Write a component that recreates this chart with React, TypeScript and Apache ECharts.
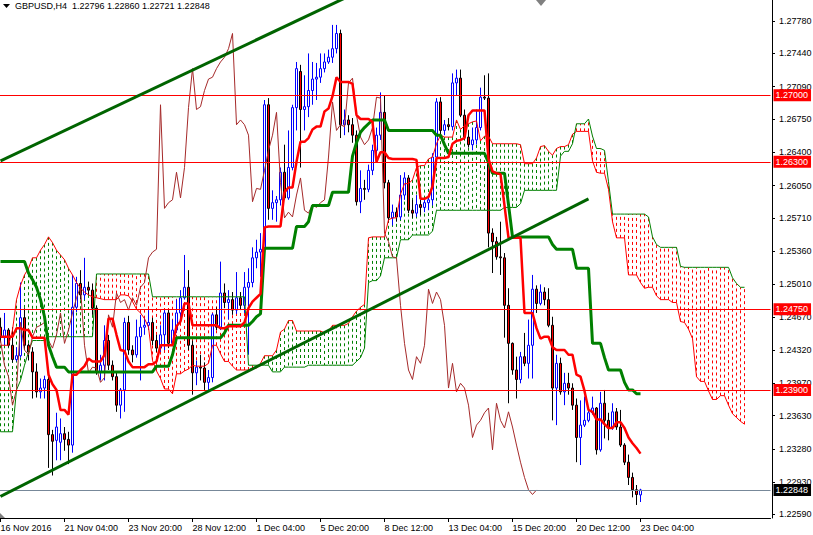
import React, { useEffect, useRef } from "react";
import * as echarts from "echarts";

// ---------- axis labels ----------
const xTickLabels = [
  "16 Nov 2016", "21 Nov 04:00", "23 Nov 20:00", "28 Nov 12:00", "1 Dec 04:00",
  "5 Dec 20:00", "8 Dec 12:00", "13 Dec 04:00", "15 Dec 20:00", "20 Dec 12:00", "23 Dec 04:00",
];
const xTickEvery = 16; // H4 bars between two time labels
const totalSlots = 193; // bars + chart shift space
const yTickValues = [
  1.2259, 1.2293, 1.2328, 1.2363, 1.2397, 1.2432, 1.2467, 1.2501,
  1.2536, 1.2571, 1.2605, 1.264, 1.2675, 1.2709, 1.2744, 1.2778,
];
const yMin = 1.22553;
const yMax = 1.28002;
const levelLines = [1.27, 1.263, 1.2475, 1.239];
const lastPrice = 1.22848;

// ---------- GBPUSD H4 candles ----------
const opens = [
  1.2456,1.2445,1.2453,1.2437,1.2422,1.2426,1.2466,1.2437,1.2430,1.2409,
  1.2388,1.2392,1.2401,1.2343,1.2337,1.2335,1.2344,1.2338,1.2332,1.2477,
  1.2502,1.2490,1.2498,1.2495,1.2476,1.2409,1.2416,1.2442,1.2416,1.2404,
  1.2374,1.2390,1.2461,1.2432,1.2427,1.2446,1.2456,1.2458,1.2461,1.2442,
  1.2434,1.2448,1.2471,1.2439,1.2453,1.2471,1.2487,1.2498,1.2437,1.2408,
  1.2414,1.2413,1.2398,1.2403,1.2469,1.2456,1.2492,1.2482,1.2485,1.2474,
  1.2487,1.2479,1.2498,1.2503,1.2529,1.2535,1.2538,1.2690,1.2581,1.2587,
  1.2590,1.2619,1.2592,1.2624,1.2687,1.2725,1.2685,1.2688,1.2705,1.2717,
  1.2719,1.2728,1.2735,1.2740,1.2749,1.2765,1.2669,1.2674,1.2669,1.2658,
  1.2588,1.2602,1.2601,1.2621,1.2642,1.2658,1.2682,1.2608,1.2571,1.2577,
  1.2572,1.2595,1.2613,1.2579,1.2576,1.2585,1.2582,1.2587,1.2590,1.2635,
  1.2693,1.2663,1.2669,1.2667,1.2713,1.2718,1.2679,1.2656,1.2648,1.2653,
  1.2666,1.2698,1.2697,1.2555,1.2546,1.2530,1.2529,1.2479,1.2439,1.2411,
  1.2401,1.2425,1.2418,1.2437,1.2496,1.2481,1.2493,1.2485,1.2458,1.2392,
  1.2418,1.2388,1.2397,1.2392,1.2374,1.2340,1.2353,1.2358,1.2366,1.2371,
  1.2327,1.2376,1.2358,1.2350,1.2367,1.2351,1.2332,1.2314,1.2298,1.2285,
  1.22796,
];
const highs = [
  1.2466,1.2471,1.2455,1.2456,1.2435,1.2503,1.2476,1.2439,1.2435,1.2418,
  1.2402,1.2405,1.2411,1.2348,1.2366,1.2360,1.2351,1.2346,1.2511,1.2509,
  1.2516,1.2529,1.2504,1.2502,1.2479,1.2427,1.2458,1.2448,1.2421,1.2408,
  1.2392,1.2466,1.2468,1.2437,1.2464,1.2469,1.2466,1.2474,1.2466,1.2448,
  1.2458,1.2474,1.2474,1.2464,1.2485,1.2495,1.2532,1.2516,1.2442,1.2421,
  1.2427,1.2419,1.2411,1.2471,1.2477,1.2525,1.2502,1.2495,1.2493,1.2514,
  1.2493,1.2514,1.2518,1.2540,1.2548,1.2555,1.2695,1.2697,1.2600,1.2594,
  1.2624,1.2648,1.2663,1.2690,1.2735,1.2732,1.2721,1.2744,1.2735,1.2734,
  1.2744,1.2744,1.2748,1.2774,1.2774,1.2769,1.2685,1.2679,1.2676,1.2663,
  1.2621,1.2611,1.2627,1.2648,1.2666,1.2703,1.2700,1.2611,1.2585,1.2582,
  1.2616,1.2619,1.2616,1.2590,1.2595,1.2590,1.2592,1.2595,1.2639,1.2697,
  1.2698,1.2674,1.2676,1.2723,1.2727,1.2727,1.2685,1.2663,1.2666,1.2685,
  1.2708,1.2721,1.2723,1.2560,1.2551,1.2567,1.2534,1.2497,1.2440,1.2425,
  1.2430,1.2450,1.2464,1.2511,1.2500,1.2501,1.2498,1.2497,1.2467,1.2427,
  1.2424,1.2408,1.2408,1.2397,1.2381,1.2379,1.2383,1.2372,1.2383,1.2372,
  1.2388,1.2390,1.2366,1.2376,1.2371,1.2369,1.2334,1.2322,1.2303,1.2290,
  1.22860,
];
const lows = [
  1.2440,1.2437,1.2435,1.2419,1.2420,1.2424,1.2434,1.2421,1.2381,1.2382,
  1.2381,1.2381,1.2308,1.2300,1.2316,1.2316,1.2326,1.2312,1.2324,1.2472,
  1.2485,1.2485,1.2490,1.2469,1.2406,1.2400,1.2400,1.2411,1.2400,1.2367,
  1.2360,1.2367,1.2427,1.2419,1.2424,1.2400,1.2448,1.2453,1.2437,1.2430,
  1.2430,1.2432,1.2434,1.2436,1.2450,1.2466,1.2485,1.2432,1.2385,1.2395,
  1.2400,1.2390,1.2390,1.2398,1.2453,1.2453,1.2476,1.2464,1.2469,1.2470,
  1.2474,1.2471,1.2427,1.2498,1.2518,1.2509,1.2525,1.2569,1.2569,1.2567,
  1.2584,1.2590,1.2590,1.2621,1.2663,1.2624,1.2663,1.2677,1.2690,1.2695,
  1.2713,1.2724,1.2733,1.2734,1.2744,1.2655,1.2658,1.2661,1.2650,1.2584,
  1.2576,1.2590,1.2598,1.2616,1.2634,1.2653,1.2602,1.2566,1.2563,1.2567,
  1.2569,1.2590,1.2576,1.2571,1.2572,1.2574,1.2577,1.2579,1.2584,1.2632,
  1.2658,1.2658,1.2663,1.2663,1.2700,1.2677,1.2653,1.2645,1.2642,1.2648,
  1.2663,1.2695,1.2540,1.2513,1.2527,1.2511,1.2445,1.2376,1.2406,1.2381,
  1.2397,1.2415,1.2402,1.2402,1.2471,1.2479,1.2479,1.2456,1.2358,1.2353,
  1.2385,1.2374,1.2385,1.2369,1.2314,1.2311,1.2351,1.2356,1.2364,1.2322,
  1.2325,1.2339,1.2337,1.2348,1.2348,1.2330,1.2311,1.2290,1.2277,1.2269,
  1.22721,
];
const closes = [
  1.2446,1.2453,1.2437,1.2422,1.2426,1.2466,1.2437,1.2430,1.2409,1.2388,
  1.2392,1.2401,1.2343,1.2336,1.2351,1.2344,1.2338,1.2332,1.2477,1.2502,
  1.2490,1.2498,1.2495,1.2476,1.2409,1.2416,1.2442,1.2416,1.2404,1.2374,
  1.2390,1.2461,1.2432,1.2427,1.2446,1.2456,1.2458,1.2461,1.2442,1.2434,
  1.2448,1.2471,1.2439,1.2453,1.2471,1.2487,1.2498,1.2437,1.2408,1.2414,
  1.2413,1.2398,1.2403,1.2469,1.2456,1.2492,1.2482,1.2485,1.2474,1.2487,
  1.2479,1.2498,1.2503,1.2529,1.2535,1.2538,1.2690,1.2581,1.2587,1.2590,
  1.2619,1.2592,1.2624,1.2687,1.2728,1.2685,1.2688,1.2705,1.2717,1.2719,
  1.2728,1.2735,1.2740,1.2749,1.2765,1.2669,1.2674,1.2669,1.2658,1.2588,
  1.2602,1.2601,1.2621,1.2642,1.2658,1.2682,1.2608,1.2571,1.2577,1.2572,
  1.2595,1.2613,1.2579,1.2576,1.2585,1.2582,1.2587,1.2590,1.2635,1.2693,
  1.2663,1.2669,1.2667,1.2713,1.2718,1.2679,1.2656,1.2648,1.2653,1.2666,
  1.2698,1.2697,1.2555,1.2546,1.2530,1.2529,1.2479,1.2439,1.2411,1.2401,
  1.2425,1.2418,1.2437,1.2496,1.2481,1.2493,1.2485,1.2458,1.2392,1.2418,
  1.2388,1.2397,1.2392,1.2374,1.2340,1.2353,1.2358,1.2366,1.2371,1.2327,
  1.2376,1.2358,1.2350,1.2367,1.2351,1.2332,1.2314,1.2298,1.2285,1.2280,
  1.22848,
];

// ---------- Ichimoku (value, number of bars it holds) ----------
const tenkanRuns: [number, number][] = [
  [1.2446,4],[1.2455,2],[1.2453,2],[1.2445,4],[1.2406,1],[1.2396,1],[1.2390,1],[1.2369,2],[1.2364,1],[1.2406,2],
  [1.2411,1],[1.2415,1],[1.2423,1],[1.2420,3],[1.2427,1],[1.2465,2],[1.2448,1],[1.2432,1],[1.2431,1],[1.2420,1],
  [1.2414,4],[1.2417,2],[1.2420,1],[1.2437,4],[1.2457,1],[1.2462,1],[1.2481,2],[1.2458,7],[1.2455,2],[1.2457,4],
  [1.2461,1],[1.2476,1],[1.2483,1],[1.2487,1],[1.2491,1],[1.2561,1],[1.2562,4],[1.2598,1],[1.2603,2],[1.2630,1],
  [1.2651,2],[1.2655,1],[1.2664,1],[1.2667,2],[1.2683,1],[1.2686,1],[1.2699,1],[1.2719,1],[1.2714,3],[1.2712,1],
  [1.2679,1],[1.2675,3],[1.2672,1],[1.2630,1],[1.2640,2],[1.2634,1],[1.2633,6],[1.2632,1],[1.2591,2],[1.2593,1],
  [1.2604,1],[1.2634,3],[1.2635,1],[1.2649,1],[1.2652,1],[1.2653,1],[1.2655,1],[1.2679,1],[1.2684,4],[1.2633,1],
  [1.2620,1],[1.2618,1],[1.2617,1],[1.2584,1],[1.2550,4],[1.2471,3],[1.2455,1],[1.2444,1],[1.2446,2],[1.2435,1],
  [1.2432,3],[1.2427,2],[1.2406,1],[1.2404,1],[1.2389,1],[1.2369,1],[1.2367,1],[1.2359,2],[1.2354,1],[1.2350,2],
  [1.2356,2],[1.2350,1],[1.2340,1],[1.2334,1],[1.2329,1],[1.2323,1],
];
const kijunRuns: [number, number][] = [
  [1.2525,7],[1.2513,1],[1.2506,1],[1.2498,1],[1.2485,1],[1.2467,1],[1.2437,1],[1.2425,1],[1.2414,3],[1.2409,22],
  [1.2415,4],[1.2427,1],[1.2445,12],[1.2450,1],[1.2458,6],[1.2462,1],[1.2467,1],[1.2470,1],[1.2539,8],[1.2562,3],
  [1.2567,1],[1.2584,5],[1.2598,5],[1.2636,1],[1.2650,1],[1.2661,1],[1.2666,1],[1.2670,1],[1.2674,4],[1.2663,12],
  [1.2658,2],[1.2648,1],[1.2639,10],[1.2629,1],[1.2618,4],[1.2585,1],[1.2551,10],[1.2543,1],[1.2538,5],[1.2518,4],
  [1.2439,3],[1.2424,1],[1.2411,4],[1.2398,1],[1.2390,2],[1.2386,2],
];
const spanARuns: [number, number][] = [
  [1.2437,3],[1.2453,1],[1.2485,1],[1.2500,1],[1.2511,1],[1.2518,1],[1.2529,2],[1.2537,1],[1.2543,1],[1.2551,1],
  [1.2545,1],[1.2537,1],[1.2532,1],[1.2527,1],[1.2518,1],[1.2511,1],[1.2503,1],[1.2497,1],[1.2493,1],[1.2490,1],
  [1.2488,1],[1.2487,1],[1.2486,1],[1.2485,4],[1.2490,2],[1.2489,1],[1.2483,1],[1.2475,1],[1.2471,1],[1.2465,1],
  [1.2456,1],[1.2421,1],[1.2410,1],[1.2402,1],[1.2391,2],[1.2386,1],[1.2407,2],[1.2410,1],[1.2412,1],[1.2416,1],
  [1.2415,3],[1.2418,1],[1.2437,2],[1.2428,1],[1.2420,2],[1.2415,1],[1.2411,4],[1.2413,2],[1.2418,1],[1.2426,3],
  [1.2432,1],[1.2451,1],[1.2454,1],[1.2463,2],[1.2452,7],[1.2450,1],[1.2452,1],[1.2458,4],[1.2460,1],[1.2467,1],
  [1.2473,1],[1.2477,1],[1.2480,1],[1.2550,1],[1.2551,4],[1.2569,1],[1.2571,2],[1.2596,1],[1.2607,2],[1.2611,1],
  [1.2624,1],[1.2626,2],[1.2633,1],[1.2635,1],[1.2649,1],[1.2658,1],[1.2656,3],[1.2674,1],[1.2664,1],[1.2668,1],
  [1.2670,1],[1.2672,1],[1.2673,1],[1.2652,1],[1.2657,2],[1.2649,7],[1.2648,1],[1.2628,3],[1.2634,1],[1.2646,1],
  [1.2647,1],[1.2641,1],[1.2637,1],[1.2644,1],[1.2646,2],[1.2648,1],[1.2659,1],[1.2662,4],[1.2631,1],[1.2619,1],
  [1.2618,2],[1.2601,1],[1.2567,1],[1.2550,3],[1.2511,3],[1.2503,1],[1.2497,1],[1.2498,2],[1.2489,1],[1.2485,3],
  [1.2482,2],[1.2462,1],[1.2461,1],[1.2454,1],[1.2444,1],[1.2404,1],[1.2399,2],[1.2389,1],[1.2380,2],[1.2384,2],
  [1.2374,1],[1.2365,1],[1.2361,1],[1.2357,1],[1.2354,1],
];
const spanBRuns: [number, number][] = [
  [1.2346,4],[1.2390,1],[1.2400,1],[1.2416,1],[1.2430,1],[1.2442,4],[1.2446,12],[1.2512,14],[1.2488,24],[1.2416,6],
  [1.2409,3],[1.2414,6],[1.2416,12],[1.2420,1],[1.2424,1],[1.2434,1],[1.2503,1],[1.2505,2],[1.2510,1],[1.2529,4],
  [1.2548,3],[1.2553,5],[1.2557,1],[1.2579,17],[1.2582,4],[1.2586,1],[1.2600,9],[1.2636,1],[1.2641,2],[1.2649,1],
  [1.2670,3],[1.2675,1],[1.2657,1],[1.2644,2],[1.2642,1],[1.2609,1],[1.2575,9],[1.2572,1],[1.2551,1],[1.2543,1],
  [1.2540,5],[1.2520,1],[1.2519,12],[1.2508,1],[1.2502,1],[1.2498,2],
];
const chikouShift = 26;

// ---------- hand-drawn trend lines [bar, price] ----------
const lowerTrend: [number, number][] = [[0, 1.2278], [147, 1.2591]];
const upperTrend: [number, number][] = [[0, 1.2631], [90, 1.281]];

const expand = (runs: [number, number][]) =>
  runs.flatMap(([v, n]) => Array.from({ length: n }, () => v));

export default function App() {
  const ref = useRef<HTMLDivElement>(null);

  useEffect(() => {
    const el = ref.current;
    if (!el) return;
    const chart = echarts.init(el, undefined, { renderer: "svg", width: 813, height: 535 });
    const font = '"Liberation Sans", Arial, sans-serif';

    const tenkan = expand(tenkanRuns);
    const kijun = expand(kijunRuns);
    const spanA = expand(spanARuns);
    const spanB = expand(spanBRuns);
    const chikou = closes.slice(chikouShift);
    const cats = Array.from({ length: totalSlots }, (_, i) => String(i));
    const candleData = opens.map((o, i) => [o, closes[i], lows[i], highs[i]]);
    const n = Math.min(spanA.length, spanB.length);
    const cloudData = Array.from({ length: n }, (_, i) => [i, spanA[i], spanB[i]]);
    const last = opens.length - 1;
    const f5 = (v: number) => v.toFixed(5);
    const showTick = (i: number) => i % xTickEvery === 0 && i / xTickEvery < xTickLabels.length;

    const lineSeries = (data: any[], color: string, width: number, z: number) => ({
      type: "line",
      data,
      symbol: "none",
      showSymbol: false,
      silent: true,
      clip: true,
      z,
      lineStyle: { color, width },
      itemStyle: { color },
    });

    chart.setOption({
      animation: false,
      backgroundColor: "#ffffff",
      title: {
        text: `GBPUSD,H4  ${f5(opens[last])} ${f5(highs[last])} ${f5(lows[last])} ${f5(closes[last])}`,
        left: 15,
        top: 1,
        padding: 0,
        textStyle: { fontSize: 9, fontWeight: "normal", color: "#000", fontFamily: font },
      },
      grid: { left: -1.5, top: 0, width: 772, height: 518, containLabel: false, outerBoundsMode: "none" },
      xAxis: {
        type: "category",
        data: cats,
        boundaryGap: true,
        axisLine: { show: true, lineStyle: { color: "#000", width: 1 } },
        axisTick: { show: true, alignWithLabel: true, interval: (i: number) => showTick(i), length: 4, lineStyle: { color: "#000" } },
        axisLabel: {
          interval: (i: number) => showTick(i),
          formatter: (_v: string, i: number) => xTickLabels[i / xTickEvery] ?? "",
          align: "left",
          margin: 5,
          color: "#000",
          fontSize: 9,
          fontFamily: font,
        },
        splitLine: { show: false },
      },
      yAxis: {
        type: "value",
        position: "right",
        min: yMin,
        max: yMax,
        offset: 1.5,
        axisLine: { show: true, lineStyle: { color: "#000", width: 1 } },
        axisTick: { show: true, length: 3, customValues: yTickValues, lineStyle: { color: "#000" } },
        axisLabel: {
          customValues: yTickValues,
          formatter: (v: number) => f5(v),
          margin: 7,
          color: "#000",
          fontSize: 9,
          fontFamily: font,
        },
        splitLine: { show: false },
      },
      graphic: [
        { type: "polygon", shape: { points: [[3, 4], [10, 4], [6.5, 8]] }, style: { fill: "#000" }, z: 100 },
        { type: "polygon", shape: { points: [[0, 513], [0, 518], [5, 518]] }, style: { fill: "#808080" }, z: 100 },
        { type: "polygon", shape: { points: [[536, 0], [546, 0], [541, 6]] }, style: { fill: "#808080" }, z: 100 },
      ],
      series: [
        {
          type: "custom",
          name: "kumo",
          data: cloudData,
          z: 1,
          clip: true,
          silent: true,
          encode: { x: 0, y: [1, 2] },
          renderItem: (_p: any, api: any) => {
            const i = api.value(0);
            const a = api.value(1);
            const b = api.value(2);
            const pa = api.coord([i, a]);
            const pb = api.coord([i, b]);
            const x = Math.round(pa[0] - 0.5) + 0.5;
            return {
              type: "line",
              shape: { x1: x, y1: pa[1], x2: x, y2: pb[1] },
              style: { stroke: a >= b ? "#008000" : "#ff0000", lineWidth: 1, lineDash: [3, 3] },
              silent: true,
            };
          },
        },
        {
          type: "candlestick",
          data: candleData,
          barWidth: 2,
          z: 2,
          silent: true,
          itemStyle: {
            color: "#ffffff",
            color0: "#ff0000",
            borderColor: "#0000ff",
            borderColor0: "#000000",
            borderWidth: 1,
          },
          markLine: {
            symbol: ["none", "none"],
            silent: true,
            animation: false,
            precision: 5,
            label: {
              show: true,
              position: "end",
              distance: 3,
              color: "#ffffff",
              fontSize: 9,
              fontFamily: font,
              padding: [2, 3, 1, 2],
            },
            data: [
              ...levelLines.map((v) => ({
                yAxis: v,
                lineStyle: { color: "#ff0000", width: 1, type: "solid" },
                label: { formatter: f5(v), backgroundColor: "#ff0000" },
              })),
              {
                yAxis: lastPrice,
                lineStyle: { color: "#778899", width: 1, type: "solid" },
                label: { formatter: f5(lastPrice), backgroundColor: "#000000" },
              },
            ],
          },
        },
        lineSeries(spanA, "#ff0000", 1, 3),
        lineSeries(spanB, "#008000", 1, 3),
        lineSeries(chikou, "#a52a2a", 1, 3),
        lineSeries(kijun, "#008000", 3, 4),
        lineSeries(tenkan, "#ff0000", 2.5, 5),
        lineSeries(lowerTrend, "#006400", 3, 6),
        lineSeries(upperTrend, "#006400", 3, 6),
      ],
    });

    return () => chart.dispose();
  }, []);

  return (
    <div
      ref={ref}
      style={{ position: "absolute", left: 0, top: 0, width: 813, height: 535, background: "#ffffff" }}
    />
  );
}
